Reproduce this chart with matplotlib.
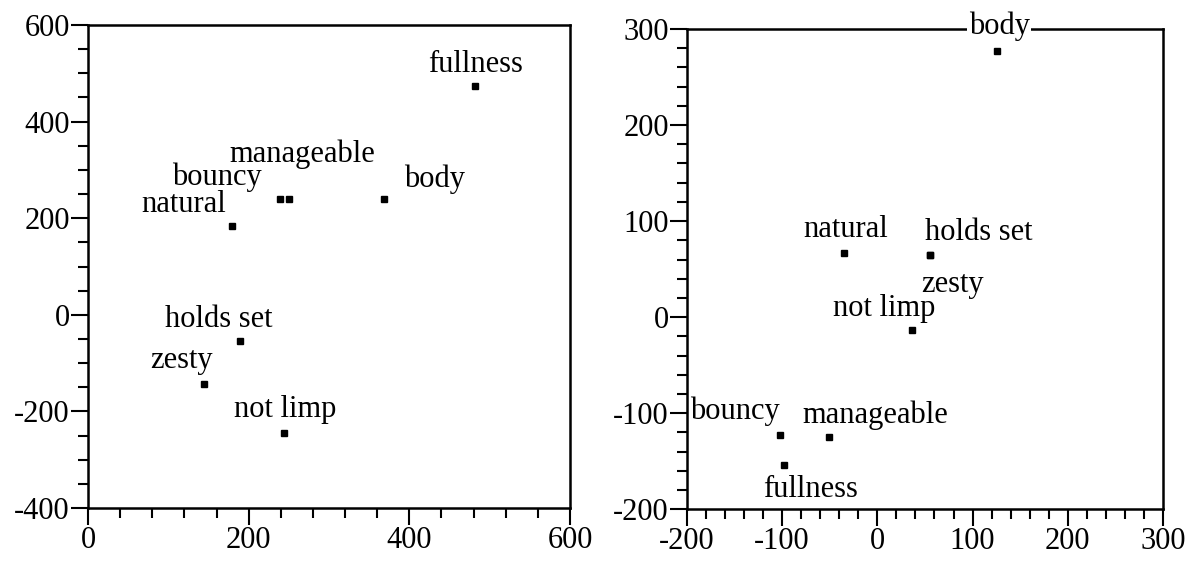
import matplotlib
matplotlib.use("Agg")
import matplotlib.pyplot as plt
from matplotlib.ticker import MultipleLocator

# 数据：两个映射图的属性坐标
left_names = ["fullness", "manageable", "bouncy", "natural", "body",
              "holds set", "zesty", "not limp"]
left_x = [482, 250, 239, 179, 369, 189, 144, 244]
left_y = [474, 240, 240, 184, 240, -54, -143, -245]

right_names = ["body", "natural", "holds set", "zesty", "not limp",
               "bouncy", "manageable", "fullness"]
right_x = [126, -35, 55, 55, 36, -102, -51, -98]
right_y = [277, 67, 65, 65, -13, -123, -125, -154]

left_xticks = [0, 200, 400, 600]
left_yticks = [-400, -200, 0, 200, 400, 600]
right_xticks = [-200, -100, 0, 100, 200, 300]
right_yticks = [-200, -100, 0, 100, 200, 300]

# 标签相对点的偏移 (像素) 和对齐方式
left_offsets = {
    "fullness": (0, 14, "center"),
    "manageable": (13, 37, "center"),
    "bouncy": (-18, 14, "right"),
    "natural": (-6, 14, "right"),
    "body": (20, 12, "left"),
    "holds set": (33, 14, "right"),
    "zesty": (9, 16, "right"),
    "not limp": (1, 16, "center"),
}
right_offsets = {
    "body": (2, 17, "center"),
    "natural": (2, 16, "center"),
    "holds set": (-5, 15, "left"),
    "zesty": (-9, -37, "left"),
    "not limp": (24, 14, "right"),
    "bouncy": (0, 16, "right"),
    "manageable": (-26, 14, "left"),
    "fullness": (26, -32, "center"),
}

plt.rcParams["font.family"] = ["Liberation Serif", "DejaVu Serif"]
plt.rcParams["axes.unicode_minus"] = False
FS = 22


def draw_panel(ax, xs, ys, names, offsets, xlim, ylim, xticks, yticks, xminor, yminor, boxed=()):
    ax.plot(xs, ys, "s", color="black", ms=5, linestyle="none", zorder=4)
    for x, y, name in zip(xs, ys, names):
        dx, dy, ha = offsets[name]
        kw = {}
        # 与边框重叠的标签用白底遮住边框
        if name in boxed:
            kw["bbox"] = dict(boxstyle="square,pad=0.05", fc="white", ec="none")
        ax.annotate(name, (x, y), xytext=(dx, dy), textcoords="offset pixels",
                    ha=ha, va="baseline", fontsize=FS, zorder=5, **kw)
    ax.set_xlim(*xlim)
    ax.set_ylim(*ylim)
    ax.set_xticks(xticks)
    ax.set_yticks(yticks)
    ax.xaxis.set_minor_locator(MultipleLocator(xminor))
    ax.yaxis.set_minor_locator(MultipleLocator(yminor))
    ax.tick_params(which="major", direction="out", length=12, width=1.5,
                   labelsize=FS, pad=1, top=False, right=False)
    ax.tick_params(which="minor", direction="out", length=7.5, width=1.5,
                   top=False, right=False)
    for s in ax.spines.values():
        s.set_linewidth(1.8)


fig = plt.figure(figsize=(12, 5.62), dpi=100)
ax1 = fig.add_axes([0.0733, 0.0961, 0.4017, 0.8594])
ax2 = fig.add_axes([0.5725, 0.0938, 0.3966, 0.8546])

draw_panel(ax1, left_x, left_y, left_names, left_offsets, (0, 600), (-400, 600),
           left_xticks, left_yticks, 40, 50)
draw_panel(ax2, right_x, right_y, right_names, right_offsets, (-200, 300), (-200, 300),
           right_xticks, right_yticks, 20, 20, boxed=("body",))

fig.savefig("out.png", dpi=100, facecolor="white")
